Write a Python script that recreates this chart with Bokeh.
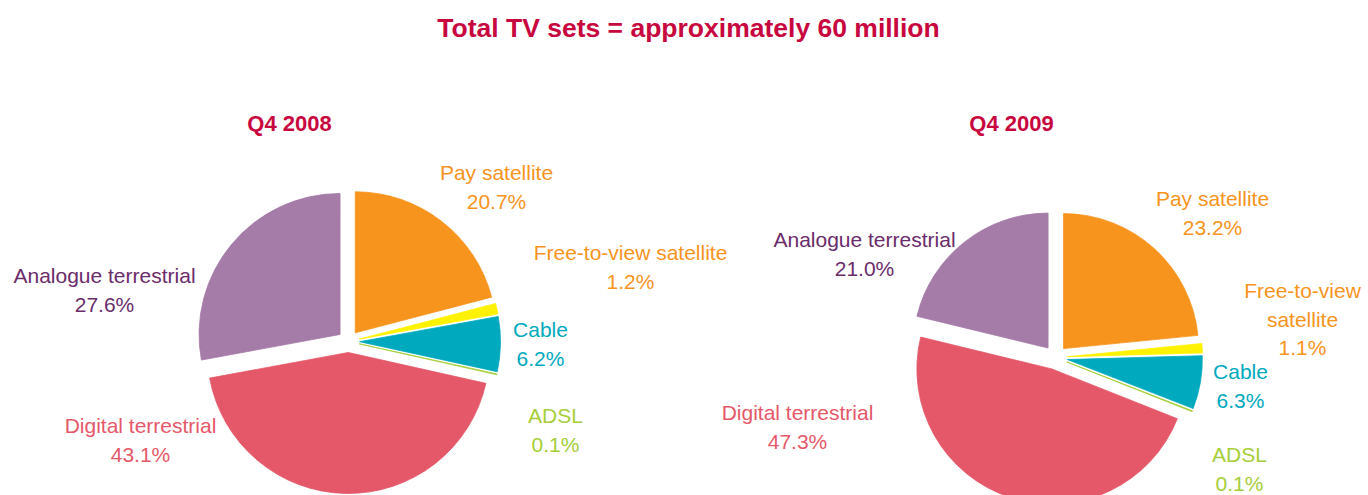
import math
from bokeh.plotting import figure
from bokeh.models import Range1d, ColumnDataSource
from bokeh.embed import file_html
from bokeh.resources import INLINE
from bokeh.core.properties import value

# ---------------- data ----------------
title_text = "Total TV sets = approximately 60 million"
periods = ["Q4 2008", "Q4 2009"]
categories = ["Pay satellite", "Free-to-view satellite", "Cable", "ADSL",
              "Digital terrestrial", "Analogue terrestrial"]
values_2008 = [20.7, 1.2, 6.2, 0.1, 43.1, 27.6]
values_2009 = [23.2, 1.1, 6.3, 0.1, 47.3, 21.0]
label_names_2008 = ["Pay satellite", "Free-to-view satellite", "Cable", "ADSL",
                    "Digital terrestrial", "Analogue terrestrial"]
label_names_2009 = ["Pay satellite", "Free-to-view\nsatellite", "Cable", "ADSL",
                    "Digital terrestrial", "Analogue terrestrial"]

# ---------------- styles / layout ----------------
slice_colors = ["#F7941D", "#FFF200", "#00A9BE", "#A6CE39", "#E55869", "#A57BA8"]
label_colors = ["#F7941D", "#F7941D", "#00A9BE", "#A6CE39", "#E55869", "#6B2C6B"]
title_color = "#C8073F"
FONT = "Liberation Sans"

W, H = 1368, 495

# pie layout: center (px), radius, explode offset
pie_layout = [
    dict(cx=348, cy=341, r=141, explode=11),
    dict(cx=1055, cy=357, r=135, explode=12),
]
# label anchors (center x, baseline of first line, in px)
label_pos_2008 = [(496, 180), (630, 260), (540, 337), (555, 423), (140, 433), (104, 283)]
label_pos_2009 = [(1212, 206), (1302, 298), (1240, 379), (1239, 462), (797, 420), (864, 247)]
subtitle_pos = [(289, 131), (1011, 131)]
title_pos = (688, 35)
LINE_STEP = 28.5
TEXT_DY = 8  # correction: rendered baseline sits lower than requested

p = figure(width=W, height=H, x_range=Range1d(0, W), y_range=Range1d(0, H),
           output_backend="svg", toolbar_location=None, min_border=0,
           x_axis_location=None, y_axis_location=None)
p.grid.visible = False
p.outline_line_color = None
p.background_fill_color = "white"
p.border_fill_color = "white"


def yd(ypx):
    return H - ypx


def yt(ypx):
    return H - (ypx - TEXT_DY)


def draw_pie(vals, lay):
    total = sum(vals)
    acc = 0.0
    xs, ys, st, en = [], [], [], []
    for v in vals:
        t1 = acc / total * 2 * math.pi
        acc += v
        t2 = acc / total * 2 * math.pi
        tm = (t1 + t2) / 2
        st.append(math.pi / 2 - t2)
        en.append(math.pi / 2 - t1)
        xs.append(lay["cx"] + lay["explode"] * math.sin(tm))
        ys.append(yd(lay["cy"]) + lay["explode"] * math.cos(tm))
    src = ColumnDataSource(dict(x=xs, y=ys, s=st, e=en, c=slice_colors))
    p.wedge(x="x", y="y", radius=lay["r"], start_angle="s", end_angle="e",
            fill_color="c", line_color="c", line_width=0.8, source=src)


def draw_labels(names, vals, pos):
    tx, ty, tt, tc = [], [], [], []
    for name, v, (x, y), col in zip(names, vals, pos, label_colors):
        lines = name.split("\n") + [f"{v:.1f}%"]
        for i, ln in enumerate(lines):
            tx.append(x)
            ty.append(yt(y + i * LINE_STEP))
            tt.append(ln)
            tc.append(col)
    src = ColumnDataSource(dict(x=tx, y=ty, t=tt, c=tc))
    p.text(x="x", y="y", text="t", text_color="c", source=src,
           text_font=value(FONT), text_font_size="21px",
           text_align="center", text_baseline="alphabetic")


draw_pie(values_2008, pie_layout[0])
draw_pie(values_2009, pie_layout[1])
draw_labels(label_names_2008, values_2008, label_pos_2008)
draw_labels(label_names_2009, values_2009, label_pos_2009)

p.text(x=[title_pos[0]], y=[yt(title_pos[1])], text=[title_text],
       text_color=title_color, text_font=value(FONT), text_font_size="26.5px",
       text_font_style="bold", text_align="center", text_baseline="alphabetic")
p.text(x=[q[0] for q in subtitle_pos], y=[yt(q[1]) for q in subtitle_pos], text=periods,
       text_color=title_color, text_font=value(FONT), text_font_size="22px",
       text_font_style="bold", text_align="center", text_baseline="alphabetic")

open("out.html", "w").write(file_html(p, INLINE))
